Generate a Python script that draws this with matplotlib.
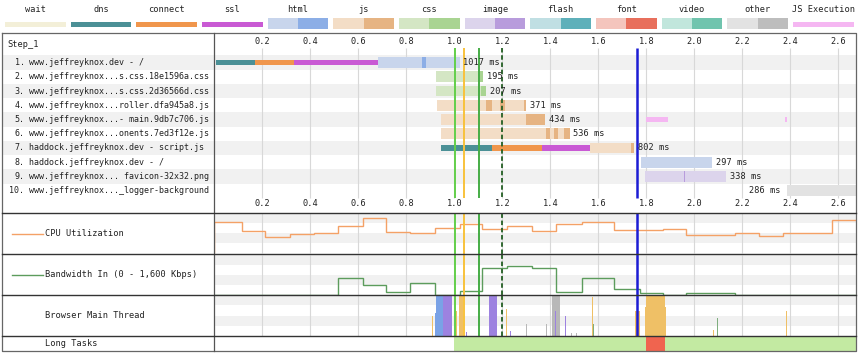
import matplotlib
matplotlib.use("Agg")
import matplotlib.pyplot as plt
from matplotlib.patches import Rectangle

plt.rcParams['font.family'] = ['DejaVu Sans Mono']

legend_names = ['wait', 'dns', 'connect', 'ssl', 'html', 'js', 'css', 'image',
                'flash', 'font', 'video', 'other', 'JS Execution']

tick_values = [0.2, 0.4, 0.6, 0.8, 1.0, 1.2, 1.4, 1.6, 1.8, 2.0, 2.2, 2.4, 2.6]

step_name = 'Step_1'
request_labels = [
    'www.jeffreyknox.dev - /',
    'www.jeffreyknox...s.css.18e1596a.css',
    'www.jeffreyknox...s.css.2d36566d.css',
    'www.jeffreyknox...roller.dfa945a8.js',
    'www.jeffreyknox...- main.9db7c706.js',
    'www.jeffreyknox...onents.7ed3f12e.js',
    'haddock.jeffreyknox.dev - script.js',
    'haddock.jeffreyknox.dev - /',
    'www.jeffreyknox... favicon-32x32.png',
    'www.jeffreyknox..._logger-background',
]
request_ms = [1017, 195, 207, 371, 434, 536, 802, 297, 338, 286]
request_type = ['html', 'css', 'css', 'js', 'js', 'js', 'js', 'html', 'image', 'other']

dns_spans = [(0.005, 0.170), None, None, None, None, None, (0.944, 1.157), None, None, None]
connect_spans = [(0.170, 0.333), None, None, None, None, None, (1.157, 1.366), None, None, None]
ssl_spans = [(0.333, 0.680), None, None, None, None, None, (1.366, 1.565), None, None, None]
content_spans = [(0.680, 1.022), (0.925, 1.120), (0.925, 1.133), (0.928, 1.299),
                 (0.942, 1.377), (0.944, 1.480), (1.565, 1.748), (1.776, 2.075),
                 (1.794, 2.132), (2.385, 2.673)]
download_chunks = [
    [(0.866, 0.883)],
    [(1.105, 1.120)],
    [(1.110, 1.133)],
    [(1.130, 1.157), (1.188, 1.209), (1.290, 1.299)],
    [(1.297, 1.377)],
    [(1.380, 1.400), (1.415, 1.430), (1.455, 1.480)],
    [(1.735, 1.748)],
    [],
    [(1.958, 1.962)],
    [],
]
js_exec = [[], [], [], [], [(1.797, 1.888), (2.378, 2.386)], [], [], [], [], []]

# page markers (seconds)
marker_times = [1.004, 1.038, 1.103, 1.199, 1.760]

# CPU utilisation (%) as steps
cpu_edges = [0.0, 0.114, 0.211, 0.315, 0.416, 0.516, 0.618, 0.715, 0.815, 0.919,
             1.023, 1.116, 1.218, 1.325, 1.422, 1.530, 1.666, 1.870, 1.965, 2.169,
             2.269, 2.370, 2.572, 2.68]
cpu_values = [79.5, 57, 42, 49.5, 52, 69.5, 89.5, 54.5, 52, 63, 74, 60.5, 69, 57,
              73, 79, 58, 61, 47, 52, 44.5, 52, 84]

# bandwidth in (Kbps) as steps
bw_edges = [0.0, 0.516, 0.618, 0.715, 0.815, 0.919, 1.023, 1.116, 1.218, 1.325,
            1.422, 1.530, 1.666, 1.773, 1.870, 1.965, 2.169, 2.68]
bw_values = [0, 648, 380, 88, 448, 0, 140, 1048, 1152, 1048, 88, 648, 220, 72, 0, 48, 0]

# browser main thread activity: start, end, level (0-1), kind
mt_start = [0.871, 0.906, 0.917, 0.923, 0.952, 1.008, 1.020, 1.049, 1.145, 1.213,
            1.230, 1.299, 1.383, 1.405, 1.417, 1.462, 1.487, 1.508, 1.521, 1.574,
            1.579, 1.753, 1.792, 1.798, 1.877, 2.077, 2.095, 2.380]
mt_end = [0.875, 0.910, 0.921, 0.952, 0.990, 1.012, 1.037, 1.053, 1.176, 1.217,
          1.234, 1.303, 1.387, 1.440, 1.421, 1.466, 1.491, 1.512, 1.525, 1.578,
          1.583, 1.773, 1.798, 1.877, 1.883, 2.081, 2.099, 2.384]
mt_level = [0.35, 0.5, 0.55, 1.0, 1.0, 0.6, 1.0, 0.1, 1.0, 0.65,
            0.12, 0.3, 0.3, 1.0, 0.6, 0.5, 0.08, 0.08, 0.95, 0.95,
            0.3, 0.6, 0.7, 1.0, 0.7, 0.15, 0.45, 0.6]
mt_kind = ['script', 'script', 'parse', 'parse', 'layout', 'script', 'script', 'layout',
           'layout', 'script', 'layout', 'other', 'other', 'other', 'layout', 'layout',
           'other', 'other', 'other', 'script', 'paint', 'script', 'script', 'script',
           'script', 'script', 'paint', 'script']

long_task_span = (1.000, 2.673)
long_task_blocking = [(1.797, 1.877)]

# ---- styles ----
colors = {
    'wait': ('#f3efd8', None),
    'dns': ('#4b9096', None),
    'connect': ('#f0964c', None),
    'ssl': ('#c95ad4', None),
    'html': ('#c8d5ec', '#8caee6'),
    'js': ('#f3ddc6', '#e6b483'),
    'css': ('#d4e6c4', '#a9d492'),
    'image': ('#dcd4ec', '#b89cdc'),
    'flash': ('#c0dfe3', '#5eb0ba'),
    'font': ('#f4c5bd', '#e86f5c'),
    'video': ('#c1e6dc', '#70c4ae'),
    'other': ('#e2e2e2', '#bdbdbd'),
    'JS Execution': ('#f5b7f2', None),
}
mt_colors = {'parse': '#7aa2e6', 'layout': '#9d82e0', 'script': '#efc066',
             'other': '#b8b8b8', 'paint': '#7fae7f'}
marker_colors = ['#63cf4a', '#f8c23c', '#46ad46', '#245f24', '#1c1cd4']
marker_styles = ['-', '-', '-', (0, (2.5, 1.5)), '-']
marker_widths = [1.4, 1.4, 1.4, 1.3, 1.8]
stripe = '#f1f1f1'
grid_c = '#d8d8d8'
txt = '#222222'
fs = 6.2
fs_row = 6.0

W, H = 860, 355
T0, T1 = -0.002, 2.673
fig = plt.figure(figsize=(W / 100, H / 100), dpi=100)


def px_axes(x0, y0, x1, y1, z=1):
    ax = fig.add_axes([x0 / W, 1 - y1 / H, (x1 - x0) / W, (y1 - y0) / H], zorder=z)
    ax.set_axis_off()
    return ax


def row_of(py):
    return (py - 62.5) / 14.25


# ---- legend ----
lg = px_axes(2.5, 0, 856.2, 32)
lg.set_xlim(0, len(legend_names))
lg.set_ylim(32, 0)
for i, name in enumerate(legend_names):
    light, dark = colors[name]
    lg.text(i + 0.5, 9.5, name, ha='center', va='center', fontsize=fs, color=txt)
    if dark is None:
        lg.add_patch(Rectangle((i + 0.04, 21.7), 0.92, 5, fc=light, ec='none'))
    else:
        lg.add_patch(Rectangle((i + 0.04, 18.3), 0.46, 11, fc=light, ec='none'))
        lg.add_patch(Rectangle((i + 0.5, 18.3), 0.46, 11, fc=dark, ec='none'))

n = len(request_labels)
ylo, yhi = row_of(213), row_of(33)

# ---- waterfall labels column ----
lab = px_axes(2, 33, 214, 213)
lab.set_xlim(2, 214)
lab.set_ylim(ylo, yhi)
lab.text(7, row_of(44.7), step_name, ha='left', va='center', fontsize=fs, color=txt)
for i in range(n):
    if i % 2 == 0:
        lab.axhspan(i - 0.5, i + 0.5, color=stripe, lw=0)
    lab.text(24.5, i, f'{i + 1}.', ha='right', va='center', fontsize=fs_row, color=txt)
    lab.text(29, i, request_labels[i], ha='left', va='center', fontsize=fs_row, color=txt)

# ---- waterfall chart ----
wf = px_axes(214, 33, 856, 213)
wf.set_xlim(T0, T1)
wf.set_ylim(ylo, yhi)
for i in range(n):
    if i % 2 == 0:
        wf.axhspan(i - 0.5, i + 0.5, color=stripe, lw=0, zorder=0)
wf.vlines(tick_values, row_of(48), row_of(198), color=grid_c, lw=0.8, zorder=1)
for t in tick_values:
    wf.text(t, row_of(42), f'{t:.1f}', ha='center', va='center', fontsize=fs, color=txt)
    wf.text(t, row_of(203.5), f'{t:.1f}', ha='center', va='center', fontsize=fs, color=txt)

for i in range(n):
    for phase, spans in (('dns', dns_spans), ('connect', connect_spans), ('ssl', ssl_spans)):
        s = spans[i]
        if s:
            wf.barh(i, s[1] - s[0], left=s[0], height=0.4, color=colors[phase][0], zorder=2)
    c0, c1 = content_spans[i]
    light, dark = colors[request_type[i]]
    wf.barh(i, c1 - c0, left=c0, height=0.74, color=light, zorder=2)
    for d0, d1 in download_chunks[i]:
        wf.barh(i, d1 - d0, left=d0, height=0.74, color=dark, zorder=2)
    for j0, j1 in js_exec[i]:
        wf.barh(i, j1 - j0, left=j0, height=0.4, color=colors['JS Execution'][0], zorder=2)
    label = f'{request_ms[i]} ms'
    if c1 + 0.2 < T1:
        wf.text(c1 + 0.015, i, label, ha='left', va='center', fontsize=fs, color=txt, zorder=4)
    else:
        wf.text(c0 - 0.025, i, label, ha='right', va='center', fontsize=fs, color=txt, zorder=4)

for t, c, ls, lw in zip(marker_times, marker_colors, marker_styles, marker_widths):
    wf.vlines(t, row_of(48), row_of(198), color=c, ls=ls, lw=lw, zorder=3)

# ---- bottom rows ----
def band_axes(y0, y1, top):
    ax = px_axes(214, y0, 856, y1)
    ax.set_xlim(T0, T1)
    ax.axhspan(top * 0.75, top, color=stripe, lw=0, zorder=0)
    ax.axhspan(top * 0.25, top * 0.5, color=stripe, lw=0, zorder=0)
    ax.vlines(tick_values, 0, top, color=grid_c, lw=0.8, zorder=1)
    return ax


cpu = band_axes(213, 254, 100)
cpu.set_ylim(-1.5, 101)
cpu.stairs(cpu_values, cpu_edges, baseline=0, color='#f4a166', lw=1.0, zorder=2)

bw = band_axes(254, 295, 1600)
bw.set_ylim(-20, 1620)
bw.stairs(bw_values, bw_edges, baseline=0, color='#5c9c5c', lw=1.0, zorder=2)

mt = band_axes(295, 336, 1.0)
mt.set_ylim(0, 1.0)
for s, e, lv, k in zip(mt_start, mt_end, mt_level, mt_kind):
    mt.bar(s, lv, width=e - s, align='edge', color=mt_colors[k], lw=0, zorder=2)

for ax in (cpu, bw, mt):
    lo, hi = ax.get_ylim()
    for t, c, ls, lw in zip(marker_times, marker_colors, marker_styles, marker_widths):
        ax.vlines(t, lo, hi, color=c, ls=ls, lw=lw, zorder=3)

lt = px_axes(214, 336, 856, 351)
lt.set_xlim(T0, T1)
lt.set_ylim(0, 1)
lt.axvspan(long_task_span[0], long_task_span[1], color='#c3eaa2', lw=0)
for s, e in long_task_blocking:
    lt.axvspan(s, e, color='#f0644f', lw=0)

# ---- bottom labels ----
bl = px_axes(2, 213, 214, 351)
bl.set_xlim(2, 214)
bl.set_ylim(351, 213)
bl.plot([12, 43], [233.5, 233.5], color='#f4a166', lw=1.0)
bl.text(45, 233.5, 'CPU Utilization', ha='left', va='center', fontsize=fs, color=txt)
bl.plot([12, 43], [274.5, 274.5], color='#5c9c5c', lw=1.0)
bl.text(45, 274.5, 'Bandwidth In (0 - 1,600 Kbps)', ha='left', va='center', fontsize=fs, color=txt)
bl.text(45, 316, 'Browser Main Thread', ha='left', va='center', fontsize=fs, color=txt)
bl.text(45, 343.5, 'Long Tasks', ha='left', va='center', fontsize=fs, color=txt)

# ---- table frame ----
fr = px_axes(0, 0, W, H, z=10)
fr.set_xlim(0, W)
fr.set_ylim(H, 0)
fr.plot([2, 856, 856, 2, 2], [33, 33, 351, 351, 33], color='#666666', lw=0.9)
fr.plot([214, 214], [33, 351], color='#555555', lw=0.9)
for yy in (213, 254, 295, 336):
    fr.plot([2, 856], [yy, yy], color='#333333', lw=1.0)

fig.savefig('out.png', dpi=100)
